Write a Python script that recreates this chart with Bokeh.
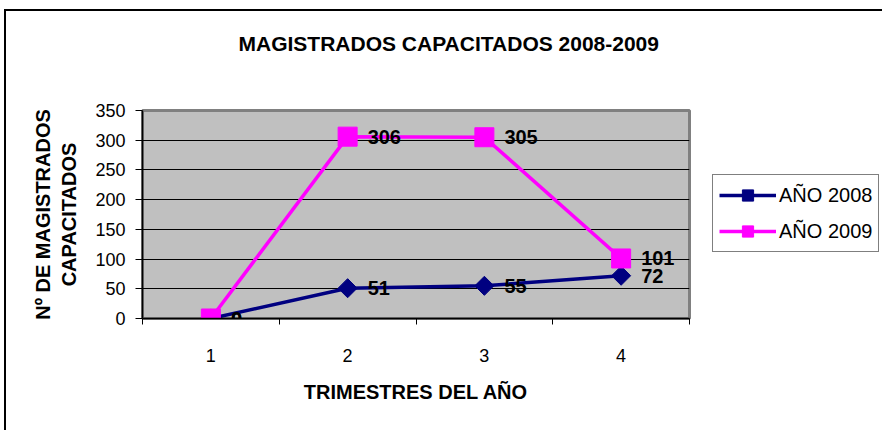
import numpy as np
from bokeh.plotting import figure
from bokeh.layouts import row
from bokeh.models import (ColumnDataSource, FixedTicker, Legend, LegendItem, Range1d, Title)
from bokeh.core.properties import value
from bokeh.embed import file_html
from bokeh.resources import INLINE

# ---- data ----
trimestres = [1, 2, 3, 4]
tick_labels = ["1", "2", "3", "4"]
anio_2008 = [0, 51, 55, 72]
anio_2009 = [0, 306, 305, 101]
series_names = ["AÑO 2008", "AÑO 2009"]
title_text = "MAGISTRADOS CAPACITADOS 2008-2009"
y_label_text = "Nº DE MAGISTRADOS\nCAPACITADOS"
x_label_text = "TRIMESTRES DEL AÑO"
y_ticks = [0, 50, 100, 150, 200, 250, 300, 350]

FONT = "Liberation Sans"
navy = "#000080"
mag = "#FF00FF"

p = figure(width=694, height=419, output_backend="svg", toolbar_location=None,
           x_range=Range1d(0.5, 4.5), y_range=Range1d(0, 350),
           min_border_left=136, min_border_right=11,
           min_border_top=99, min_border_bottom=112)

p.background_fill_color = "#C0C0C0"
p.border_fill_color = "white"
p.outline_line_color = "#808080"
p.outline_line_width = 3

# default title left empty; spacer (added first, closest to frame), then real title
p.title.text = ""
p.add_layout(Title(text=".", text_color="white", text_font_size="10px", standoff=46), "above")
p.add_layout(Title(text=title_text, align="left", offset=96, standoff=0,
                   text_font=FONT, text_font_style="bold", text_font_size="21px",
                   text_color="black"), "above")

# axes
p.xaxis.ticker = FixedTicker(ticks=trimestres, minor_ticks=[0.5, 1.5, 2.5, 3.5, 4.5])
p.xaxis.major_label_overrides = {t: l for t, l in zip(trimestres, tick_labels)}
p.xaxis.major_tick_out = 0
p.xaxis.major_tick_in = 0
p.xaxis.minor_tick_out = 6
p.xaxis.minor_tick_in = 0
p.xaxis.minor_tick_line_color = "black"
p.xaxis.major_label_standoff = 24
p.xaxis.axis_line_color = "black"
p.xaxis.axis_line_width = 1.5
p.xaxis.axis_label = x_label_text
p.xaxis.axis_label_standoff = 16

p.yaxis.ticker = FixedTicker(ticks=y_ticks)
p.yaxis.minor_tick_line_color = None
p.yaxis.major_tick_out = 7
p.yaxis.major_tick_in = 0
p.yaxis.major_label_standoff = 10
p.yaxis.axis_line_color = "black"
p.yaxis.axis_line_width = 1.5
p.yaxis.axis_label = y_label_text
p.yaxis.axis_label_standoff = 12
p.yaxis.axis_label_text_line_height = 1.2

for ax in (p.xaxis, p.yaxis):
    ax.major_label_text_font = FONT
    ax.major_label_text_font_size = "18px"
    ax.major_label_text_color = "black"
    ax.major_tick_line_color = "black"
    ax.axis_label_text_font = FONT
    ax.axis_label_text_font_style = "bold"
    ax.axis_label_text_font_size = "20px"
    ax.axis_label_text_color = "black"

p.xgrid.grid_line_color = None
p.ygrid.ticker = FixedTicker(ticks=y_ticks)
p.ygrid.grid_line_color = "black"
p.ygrid.grid_line_width = 1

src = ColumnDataSource(dict(x=trimestres, y08=anio_2008, y09=anio_2009,
                            l08=[str(v) for v in anio_2008],
                            l09=[str(v) for v in anio_2009]))

p.line("x", "y08", source=src, line_color=navy, line_width=3.5)
p.scatter("x", "y08", source=src, marker="square", angle=np.pi / 4, size=13.5,
          fill_color=navy, line_color=navy)
p.line("x", "y09", source=src, line_color=mag, line_width=3.5)
p.scatter("x", "y09", source=src, marker="square", size=19,
          fill_color=mag, line_color=mag)

for col_y, col_l in (("y08", "l08"), ("y09", "l09")):
    p.text("x", col_y, text=col_l, source=src, x_offset=20, text_baseline="middle",
           text_align="left", text_font=value(FONT), text_font_style="bold",
           text_font_size="20px", text_color="black")

# ---- legend panel (separate figure to the right) ----
p2 = figure(width=182, height=419, output_backend="svg", toolbar_location=None,
            x_range=Range1d(10, 11), y_range=Range1d(0, 350),
            x_axis_type=None, y_axis_type=None, min_border=0, title=None)
p2.outline_line_color = None
p2.grid.visible = False
p2.background_fill_color = "white"
p2.border_fill_color = "white"

g1 = p2.line("x", "y08", source=src, line_color=navy, line_width=3.5)
s1 = p2.scatter("x", "y08", source=src, marker="square", angle=np.pi / 4, size=13.5,
                fill_color=navy, line_color=navy)
g2 = p2.line("x", "y09", source=src, line_color=mag, line_width=3.5)
s2 = p2.scatter("x", "y09", source=src, marker="square", size=19,
                fill_color=mag, line_color=mag)

legend = Legend(items=[LegendItem(label=series_names[0], renderers=[g1, s1]),
                       LegendItem(label=series_names[1], renderers=[g2, s2])],
                location=(12, 66))
legend.border_line_color = "black"
legend.border_line_width = 1
legend.background_fill_color = "white"
legend.background_fill_alpha = 1
legend.padding = 6
legend.margin = 0
legend.spacing = 8
legend.glyph_width = 57
legend.glyph_height = 28
legend.label_height = 28
legend.label_standoff = 3
legend.label_text_font = FONT
legend.label_text_font_size = "20px"
legend.label_text_color = "black"
p2.add_layout(legend)

layout = row(p, p2, spacing=0,
             styles={"border-left": "2px solid black", "border-top": "2px solid black",
                     "margin-left": "4px", "margin-top": "9px"})

open("out.html", "w").write(file_html(layout, INLINE))
